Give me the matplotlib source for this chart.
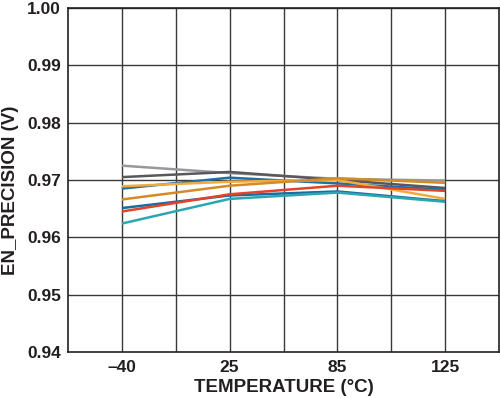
import matplotlib
matplotlib.use("Agg")
import matplotlib.pyplot as plt
import numpy as np

# temperature categories and one curve per device
temps = ["\u201340", "25", "85", "125"]
s_lightgray = [0.9725, 0.9712, 0.9702, 0.9699]
s_darkgray = [0.9705, 0.9714, 0.9700, 0.9686]
s_lightorange = [0.9689, 0.9697, 0.9700, 0.9667]
s_blue1 = [0.9685, 0.9704, 0.9694, 0.9683]
s_darkorange = [0.9666, 0.9690, 0.9703, 0.9695]
s_blue2 = [0.9651, 0.9673, 0.9680, 0.9663]
s_red = [0.9645, 0.9675, 0.9690, 0.9681]
s_teal = [0.9624, 0.9667, 0.9678, 0.9662]

series = [
    (s_lightgray, "#98989c"),
    (s_darkgray, "#58575c"),
    (s_blue1, "#1f6fa6"),
    (s_lightorange, "#f3aa3c"),
    (s_darkorange, "#d38b27"),
    (s_blue2, "#1a6aa3"),
    (s_red, "#e2432b"),
    (s_teal, "#2aa7b1"),
]

plt.rcParams["font.family"] = ["Liberation Sans", "DejaVu Sans"]
plt.rcParams["font.weight"] = "bold"

fig = plt.figure(figsize=(5.0, 3.98), dpi=100)
ax = fig.add_axes([0.136, 0.1156, 0.862, 0.8644])

xpos = np.arange(len(temps)) * 2 + 1
for vals, col in series:
    ax.plot(xpos, vals, color=col, lw=1.8, solid_capstyle="butt")

ax.set_xlim(0, 8)
ax.set_ylim(0.94, 1.00)
ax.set_xticks(xpos)
ax.set_xticklabels(temps)
ax.set_yticks(np.arange(0.94, 1.0001, 0.01))
ax.set_yticklabels(["%.2f" % v for v in np.arange(0.94, 1.0001, 0.01)])

for x in range(1, 8):
    ax.axvline(x, color="#3a3839", lw=1.0, zorder=0)
for y in np.arange(0.95, 1.0, 0.01):
    ax.axhline(y, color="#3a3839", lw=1.0, zorder=0)

for sp in ax.spines.values():
    sp.set_color("#231f20")
    sp.set_linewidth(1.2)

ax.tick_params(length=0, labelsize=12.5, colors="#231f20", pad=5)
ax.tick_params(axis="x", pad=6)
ax.set_xlabel("TEMPERATURE (\u00b0C)", fontsize=13.5, fontweight="bold",
              color="#231f20", labelpad=3)
ax.set_ylabel("EN_PRECISION (V)", fontsize=13.5, fontweight="bold",
              color="#231f20")
ax.yaxis.set_label_coords(-0.113, 0.471)

fig.savefig("out.png", dpi=100)
